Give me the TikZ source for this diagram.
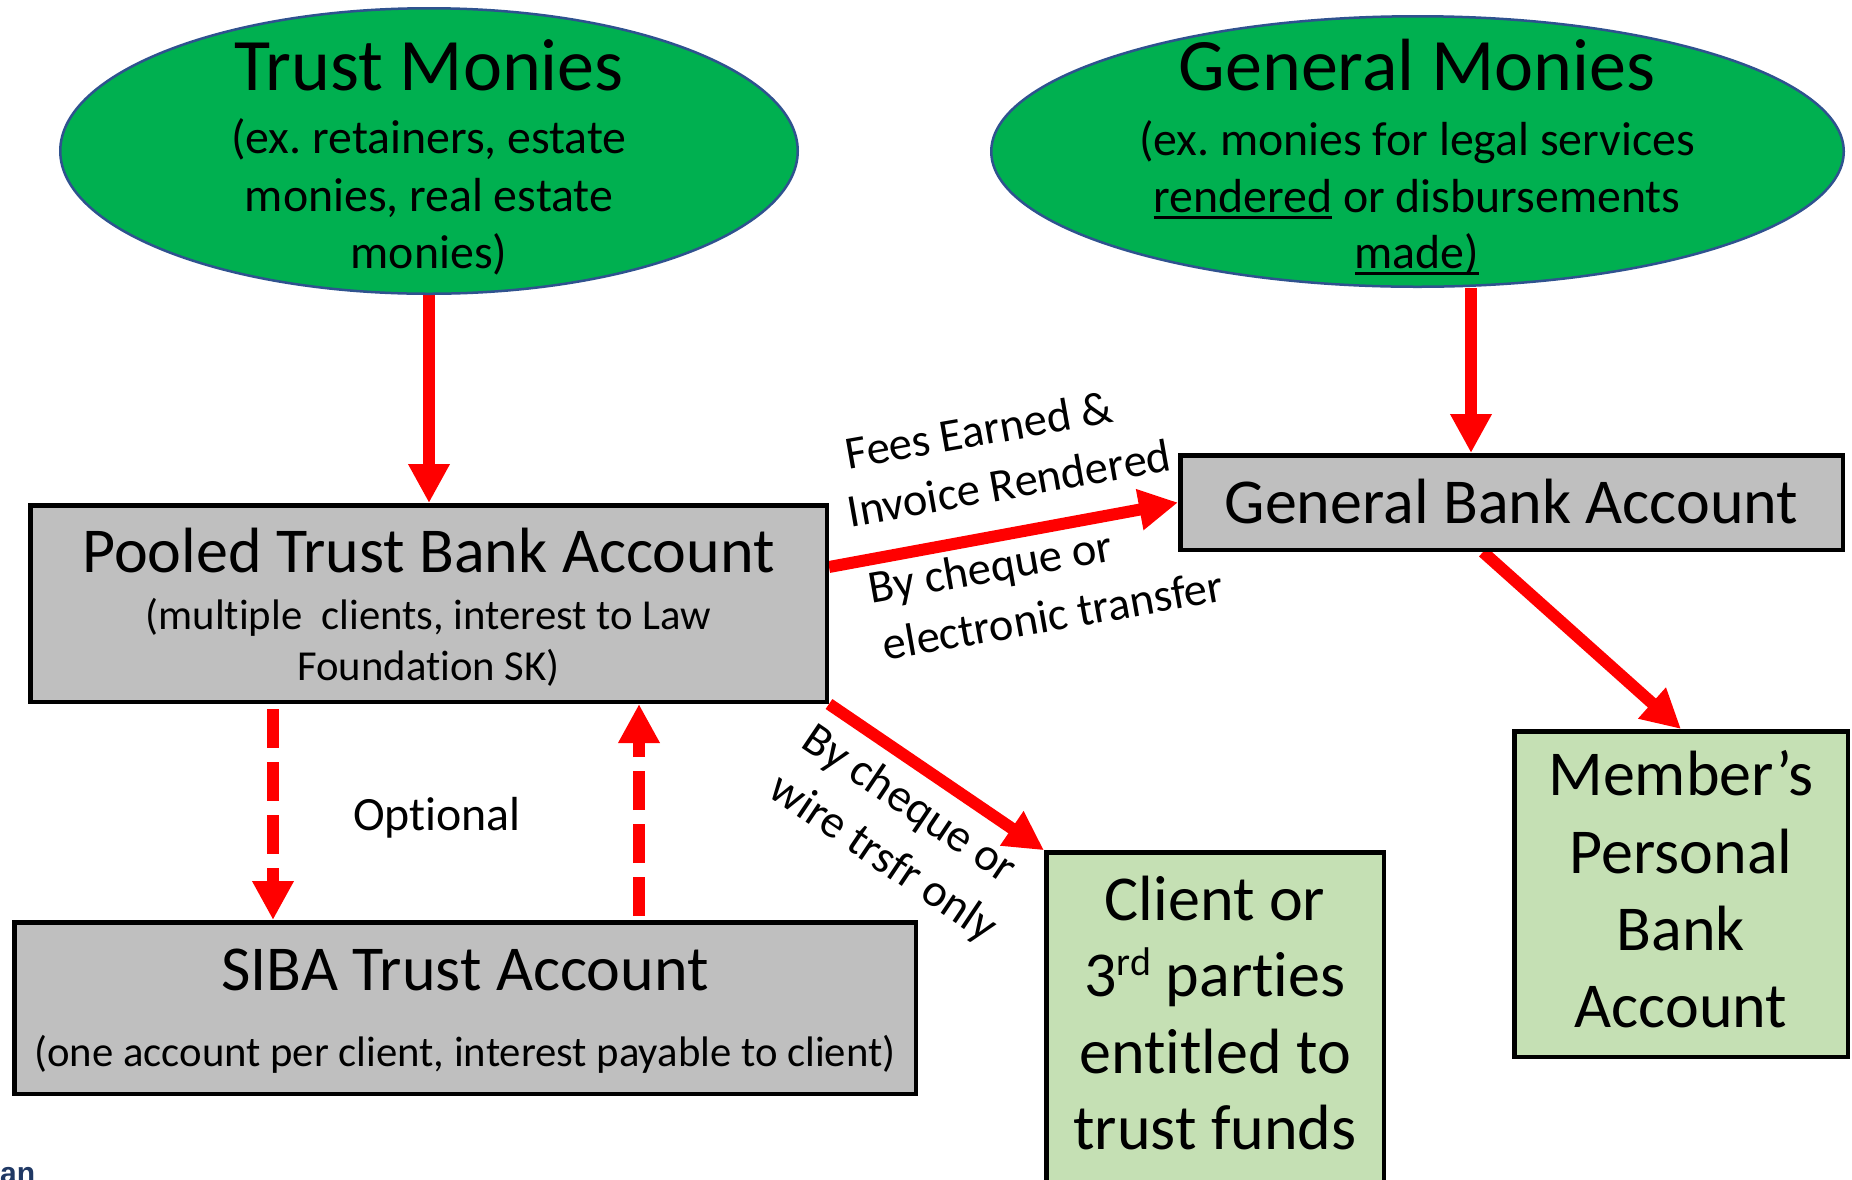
\documentclass[tikz,border=0pt]{standalone}
\usepackage{fontspec}
\setmainfont{Carlito}[Ligatures=NoCommon]
\newfontfamily\logofont{Liberation Sans}
\usetikzlibrary{arrows.meta,calc,shapes.geometric}

\definecolor{moneygreen}{HTML}{00B050}
\definecolor{ovalline}{HTML}{2F528F}
\definecolor{acctgray}{HTML}{BFBFBF}
\definecolor{payeegreen}{HTML}{C5E0B4}
\definecolor{logoblue}{HTML}{1F3864}

% underline with a fixed drop below the baseline
\newcommand\undl[1]{\setbox0\hbox{#1}\rlap{\rule[-7pt]{\wd0}{3pt}}\box0\relax}
% raised ordinal suffix
\newcommand\ordsuf[1]{\raisebox{21pt}{\fontsize{40}{40}\selectfont #1}}

\pgfdeclarelayer{background}
\pgfsetlayers{background,main}

\tikzset{
  money/.style={ellipse, draw=ovalline, line width=2.5pt, fill=moneygreen, inner sep=0pt},
  acct/.style={rectangle, draw=black, line width=4.5pt, fill=acctgray, inner sep=0pt},
  payee/.style={rectangle, draw=black, line width=4.5pt, fill=payeegreen, inner sep=0pt},
  txt/.style={anchor=base, inner sep=0pt},
  huge/.style={txt, font=\fontsize{74}{88}\selectfont},
  big/.style={txt, font=\fontsize{64}{76}\selectfont},
  mid/.style={txt, font=\fontsize{47.8}{57}\selectfont},
  small/.style={txt, font=\fontsize{42.7}{51}\selectfont},
  lbl/.style={inner sep=0pt, font=\fontsize{46.5}{55}\selectfont},
  flow/.style={draw=red, line width=12pt, -{Triangle[width=39pt,length=39pt]}},
  optflow/.style={flow, dash pattern=on 39pt off 14pt},
}

\begin{document}
\frenchspacing
\begin{tikzpicture}[x=1pt,y=-1pt]
\useasboundingbox (0,0) rectangle (1852,1179);
\begin{pgfonlayer}{background}
  \fill[white] (0,0) rectangle (1852,1179);
\end{pgfonlayer}

% sources of money
\node[money, minimum width=737.5pt, minimum height=285.5pt] (trust) at (429,151) {};
\node[money, minimum width=852.5pt, minimum height=270.5pt] (genm) at (1417.5,151.5) {};

\node[huge] (trustT) at (429,90) {Trust Monies};
\node[mid] (trustA) at (429,153) {(ex. retainers, estate};
\node[mid] (trustB) at (429,211) {monies, real estate};
\node[mid] (trustC) at (429,268) {monies)};

\node[huge] (genmT) at (1417,90) {General Monies};
\node[mid] (genmA) at (1417,155) {(ex. monies for legal services};
\node[mid] (genmB) at (1417,212) {\undl{rendered} or disbursements};
\node[mid] (genmC) at (1417,268) {\undl{made)}};

% bank accounts
\node[acct, minimum width=796.5pt, minimum height=196.5pt] (pooled) at (428.5,603.5) {};
\node[big] (pooledT) at (428.5,572) {Pooled Trust Bank Account};
\node[small] (pooledA) at (428.5,629) {(multiple~ clients, interest to Law};
\node[small] (pooledB) at (428.5,680) {Foundation SK)};

\node[acct, minimum width=901.5pt, minimum height=171.5pt] (siba) at (465,1008) {};
\node[big] (sibaT) at (465,990) {SIBA Trust Account};
\node[small] (sibaA) at (465,1066) {(one account per client, interest payable to client)};

\node[acct, minimum width=662.5pt, minimum height=94.5pt] (genbank) at (1511.5,502.5) {};
\node[big] (genbankT) at (1511.5,523) {General Bank Account};

% recipients
\node[payee, minimum width=333.5pt, minimum height=325.5pt] (member) at (1681,894) {};
\node[big] (memberA) at (1681,795) {Member’s};
\node[big] (memberB) at (1681,873) {Personal};
\node[big] (memberC) at (1681,950) {Bank};
\node[big] (memberD) at (1681,1027) {Account};

\node[payee, minimum width=337.5pt, minimum height=365pt] (client) at (1215,1035) {};
\node[big] (clientA) at (1215,920) {Client or};
\node[big] (clientB) at (1215,996) {3\ordsuf{rd} parties};
\node[big] (clientC) at (1215,1073) {entitled to};
\node[big] (clientD) at (1215,1149) {trust funds};

% flows between accounts
\begin{pgfonlayer}{background}
  \draw[flow] (trust.south) -- (trust.south |- pooled.north);
  \draw[flow] ([xshift=53.5pt]genm.south) -- ([xshift=53.5pt]genm.south |- genbank.north);
  \draw[flow] ([yshift=36.5pt]pooled.east) -- (genbank.west);
  \draw[flow] (pooled.south east) -- (client.north west);
  \draw[flow] ([xshift=-28.5pt]genbank.south) -- (member.north);
  \draw[optflow] ([xshift=245pt,yshift=-5pt]pooled.south west) -- ([xshift=261pt]siba.north west);
  \draw[optflow] ([xshift=627pt,yshift=4pt]siba.north west) -- ([xshift=611pt]pooled.south west);
\end{pgfonlayer}

% flow labels
\node[lbl, rotate=10] (feesA) at (979,430) {Fees Earned \&};
\node[lbl, rotate=10] (feesB) at (1009,483) {Invoice Rendered};
\node[lbl, rotate=10] (viaA) at (991,570) {By cheque or};
\node[lbl, rotate=10] (viaB) at (1053,615) {electronic transfer};
\node[lbl, rotate=-34] (wireA) at (909,805) {By cheque or};
\node[lbl, rotate=-34] (wireB) at (883,859) {wire trsfr only};
\node[mid] (optional) at (437,830) {Optional};

\node[anchor=north west, inner sep=0pt, text=logoblue,
      font=\logofont\bfseries\fontsize{30}{34}\selectfont] (logo) at (0,1167) {an};
\end{tikzpicture}
\end{document}
